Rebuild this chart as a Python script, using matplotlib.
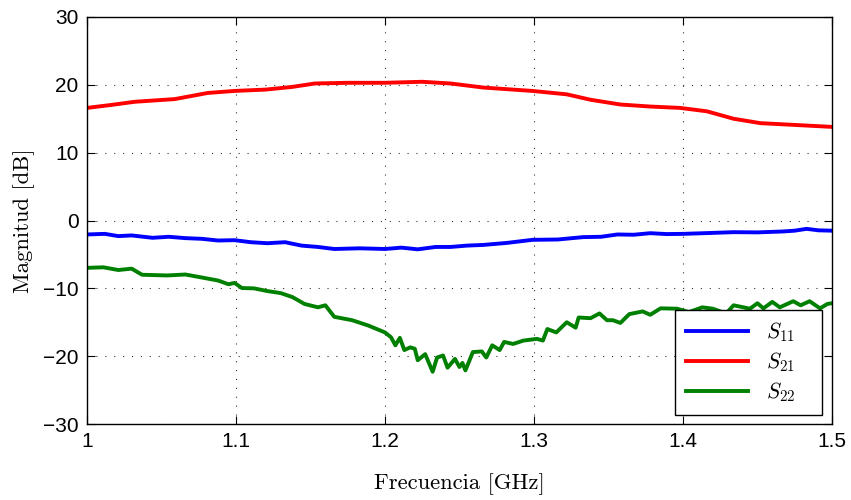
import matplotlib
matplotlib.use("Agg")
import matplotlib.pyplot as plt

# Data
f_s21 = [1.000, 1.015, 1.032, 1.059, 1.081, 1.099, 1.120, 1.138, 1.153, 1.175, 1.200, 1.225, 1.244,
         1.266, 1.299, 1.322, 1.338, 1.358, 1.378, 1.398, 1.416, 1.434, 1.452, 1.474, 1.500]
s21 = [16.6, 17.0, 17.5, 17.9, 18.8, 19.1, 19.3, 19.7, 20.2, 20.3, 20.3, 20.45, 20.2,
       19.6, 19.1, 18.6, 17.8, 17.1, 16.8, 16.6, 16.1, 15.0, 14.35, 14.1, 13.8]

f_s11 = [1.000, 1.012, 1.021, 1.030, 1.044, 1.055, 1.066, 1.077, 1.088, 1.099, 1.110, 1.121, 1.133,
         1.144, 1.155, 1.166, 1.183, 1.200, 1.211, 1.222, 1.234, 1.244, 1.255, 1.266, 1.282,
         1.299, 1.316, 1.333, 1.345, 1.356, 1.367, 1.378, 1.389, 1.400, 1.417, 1.434, 1.450,
         1.467, 1.475, 1.483, 1.491, 1.500]
s11 = [-2.06, -1.97, -2.3, -2.2, -2.55, -2.4, -2.6, -2.7, -2.95, -2.9, -3.2, -3.35, -3.2,
       -3.7, -3.9, -4.2, -4.1, -4.2, -4.0, -4.25, -3.9, -3.9, -3.7, -3.6, -3.3,
       -2.85, -2.8, -2.45, -2.4, -2.06, -2.1, -1.87, -2.0, -1.97, -1.85, -1.72, -1.75,
       -1.62, -1.5, -1.23, -1.45, -1.5]

f_s22 = [1.000, 1.011, 1.021, 1.030, 1.037, 1.054, 1.066, 1.077, 1.088, 1.095, 1.099, 1.104,
         1.112, 1.121, 1.130, 1.138, 1.146, 1.155, 1.160, 1.166, 1.178, 1.189, 1.200, 1.204,
         1.207, 1.210, 1.213, 1.217, 1.220, 1.222, 1.227, 1.232, 1.235, 1.239, 1.242, 1.247,
         1.250, 1.252, 1.254, 1.259, 1.265, 1.268, 1.272, 1.277, 1.280, 1.286, 1.293, 1.302,
         1.306, 1.309, 1.315, 1.322, 1.328, 1.330, 1.338, 1.344, 1.349, 1.353, 1.358, 1.364,
         1.373, 1.378, 1.385, 1.396, 1.404, 1.413, 1.420, 1.429, 1.434, 1.445, 1.450, 1.454,
         1.460, 1.465, 1.474, 1.479, 1.485, 1.492, 1.497, 1.500]
s22 = [-6.98, -6.9, -7.3, -7.1, -8.0, -8.1, -7.96, -8.4, -8.85, -9.4, -9.2, -9.96,
       -10.0, -10.4, -10.7, -11.3, -12.3, -12.8, -12.5, -14.2, -14.7, -15.5, -16.5, -17.2,
       -18.4, -17.3, -19.1, -18.7, -18.9, -20.6, -19.7, -22.3, -20.2, -19.9, -21.7, -20.4,
       -21.6, -21.0, -22.1, -19.4, -19.3, -20.2, -18.4, -19.1, -17.9, -18.2, -17.7, -17.45,
       -17.7, -16.0, -16.5, -15.0, -15.8, -14.3, -14.4, -13.7, -14.7, -14.7, -15.1, -13.8,
       -13.4, -13.9, -12.95, -13.0, -13.5, -12.8, -13.0, -13.7, -12.5, -13.0, -12.2, -12.95,
       -12.0, -12.8, -11.9, -12.5, -11.9, -12.95, -12.3, -12.2]

x_ticks = [1.0, 1.1, 1.2, 1.3, 1.4, 1.5]
x_ticklabels = ['1', '1.1', '1.2', '1.3', '1.4', '1.5']
y_ticks = [-30, -20, -10, 0, 10, 20, 30]
y_ticklabels = ['\u221230', '\u221220', '\u221210', '0', '10', '20', '30']

labels = [r'$S_{11}$', r'$S_{21}$', r'$S_{22}$']
colors = ['#0000ff', '#ff0000', '#008000']

plt.rcParams['mathtext.fontset'] = 'cm'
plt.rcParams['font.family'] = ['Liberation Sans', 'DejaVu Sans']

fig = plt.figure(figsize=(8.51, 5.0), dpi=100)
ax = fig.add_axes([0.1022, 0.152, 0.8754, 0.814])

ax.plot(f_s11, s11, color=colors[0], lw=2.8, label=labels[0])
ax.plot(f_s21, s21, color=colors[1], lw=2.8, label=labels[1])
ax.plot(f_s22, s22, color=colors[2], lw=2.8, label=labels[2])

ax.set_xlim(1.0, 1.5)
ax.set_ylim(-30, 30)
ax.set_xticks(x_ticks)
ax.set_xticklabels(x_ticklabels)
ax.set_yticks(y_ticks)
ax.set_yticklabels(y_ticklabels)
ax.tick_params(direction='in', top=True, right=True, labelsize=15, length=6, width=0.8)
ax.tick_params(axis='x', pad=6)
ax.tick_params(axis='y', pad=6)
ax.grid(True, color='#333333', linestyle=(0, (1, 7)), linewidth=0.8)
for s in ax.spines.values():
    s.set_linewidth(1.0)

ax.set_xlabel('Frecuencia [GHz]', family='cmr10', fontsize=16.3, labelpad=16)
ax.set_ylabel('Magnitud [dB]', family='cmr10', fontsize=16.3, labelpad=6)

leg = ax.legend(loc='lower left', bbox_to_anchor=(0.789, 0.022, 0.1976, 0.243), mode='expand',
                fontsize=15.5, handlelength=2.9, fancybox=False,
                edgecolor='black', framealpha=1, borderaxespad=0.0, labelspacing=0.3,
                handletextpad=0.85, borderpad=0.5)
leg.get_frame().set_linewidth(1.0)

fig.savefig('out.png', dpi=100)
